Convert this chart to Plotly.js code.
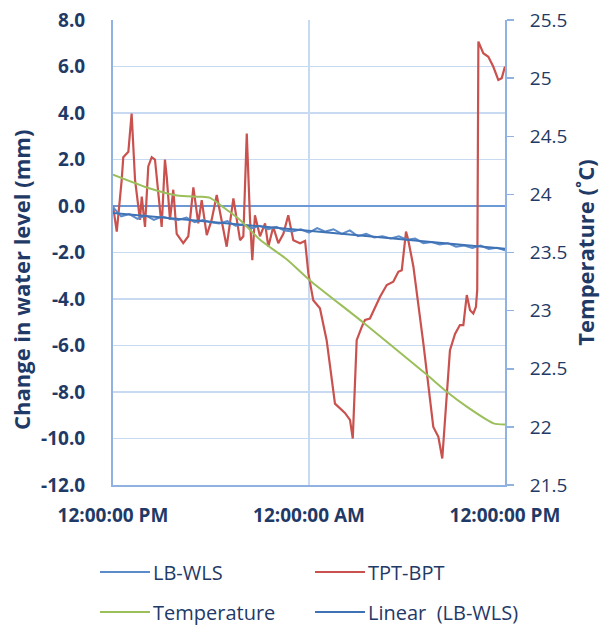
<!DOCTYPE html>
<html><head><meta charset="utf-8">
<script src="https://cdn.plot.ly/plotly-3.0.1.min.js"></script>
<style>html,body{margin:0;padding:0;background:#fff}#chart{width:600px;height:630px}</style>
</head><body><div id="chart"></div>
<script>
const xTickVals = [0, 12, 24];
const xTickText = ['12:00:00 PM', '12:00:00 AM', '12:00:00 PM'];
const leftTickVals = [-12, -10, -8, -6, -4, -2, 0, 2, 4, 6, 8];
const leftTickText = ['-12.0', '-10.0', '-8.0', '-6.0', '-4.0', '-2.0', '0.0', '2.0', '4.0', '6.0', '8.0'];
const rightTickVals = [21.5, 22, 22.5, 23, 23.5, 24, 24.5, 25, 25.5];
const rightTickText = ['21.5', '22', '22.5', '23', '23.5', '24', '24.5', '25', '25.5'];

const seriesNames = ['LB-WLS', 'TPT-BPT', 'Temperature', 'Linear  (LB-WLS)'];

const wlsHours = [0, 0.5, 1, 1.5, 2, 2.5, 3, 3.5, 4, 4.5, 5, 5.5, 6, 6.5, 7, 7.5, 8, 8.5, 9, 9.5, 10, 10.5, 11, 11.5, 12,
  12.5, 13, 13.5, 14, 14.5, 15, 15.5, 16, 16.5, 17, 17.5, 18, 18.5, 19, 19.5, 20, 20.5, 21, 21.5, 22, 22.5, 23, 23.5, 24];
const wlsValues = [-0.05, -0.45, -0.35, -0.55, -0.4, -0.6, -0.45, -0.55, -0.6, -0.5, -0.7, -0.6, -0.7, -0.75, -0.65, -0.85,
  -0.8, -0.95, -0.85, -1.0, -0.9, -1.05, -1.1, -1.0, -1.15, -0.95, -1.1, -1.0, -1.2, -1.05, -1.3, -1.2, -1.35, -1.3,
  -1.4, -1.3, -1.45, -1.4, -1.6, -1.55, -1.65, -1.6, -1.75, -1.7, -1.8, -1.7, -1.85, -1.8, -1.9];

const tptHours = [0, 0.23, 0.53, 0.63, 0.94, 1.14, 1.35, 1.65, 1.76, 1.96, 2.16, 2.37, 2.57, 2.98, 3.18, 3.29, 3.49, 3.69,
  3.9, 4.3, 4.61, 4.92, 5.22, 5.43, 5.74, 6.04, 6.35, 6.66, 6.96, 7.37, 7.78, 7.98, 8.19, 8.39, 8.53, 8.69, 9.0, 9.31,
  9.51, 9.81, 10.12, 10.43, 10.73, 11.04, 11.45, 11.76, 11.96, 12.26, 12.67, 13.08, 13.59, 14.2, 14.51, 14.68, 14.92,
  15.23, 15.43, 15.73, 16.35, 16.76, 17.16, 17.47, 17.68, 17.94, 18.08, 18.39, 19.0, 19.61, 19.92, 20.16, 20.43, 20.63,
  20.94, 21.24, 21.45, 21.66, 21.86, 22.06, 22.22, 22.3, 22.37, 22.67, 22.98, 23.28, 23.59, 23.8, 24];
const tptValues = [0.0, -1.1, 1.1, 2.1, 2.33, 3.98, 1.12, -0.6, 0.4, -0.9, 1.7, 2.1, 2.0, -0.9, 2.0, 1.25, -0.6, 0.7,
  -1.2, -1.6, -1.3, 0.8, -0.75, 0.25, -1.25, -0.6, 0.47, -0.75, -1.75, 0.33, -1.47, -1.3, 3.12, -0.6, -2.33, -0.4, -1.3,
  -0.75, -1.75, -0.9, -1.6, -1.2, -0.4, -1.47, -1.6, -1.5, -2.9, -4.05, -4.4, -5.77, -8.5, -8.9, -9.2, -10.0, -5.77,
  -5.2, -4.9, -4.84, -3.9, -3.4, -3.26, -2.83, -2.76, -1.1, -1.47, -2.6, -5.9, -9.5, -9.93, -10.86, -8.06, -6.2,
  -5.5, -5.12, -5.12, -3.83, -4.48, -4.62, -4.34, -3.6, 7.07, 6.57, 6.42, 6.0, 5.42, 5.5, 6.0];

const tempHours = [0, 2.27, 3.92, 5.33, 5.94, 6.74, 7.78, 9.0, 10.65, 12.06, 15.3, 19.2, 20.45, 21.7, 23.3, 24];
const tempValues = [24.17, 24.05, 23.99, 23.98, 23.97, 23.89, 23.78, 23.61, 23.44, 23.26, 22.9, 22.45, 22.3, 22.17, 22.03, 22.02];

// Linear trendline fitted to the LB-WLS series (least squares)
const n = wlsHours.length;
let sx = 0, sy = 0, sxx = 0, sxy = 0;
for (let i = 0; i < n; i++) { sx += wlsHours[i]; sy += wlsValues[i]; sxx += wlsHours[i] * wlsHours[i]; sxy += wlsHours[i] * wlsValues[i]; }
const slope = (n * sxy - sx * sy) / (n * sxx - sx * sx);
const icpt = (sy - slope * sx) / n;
const trendX = [wlsHours[0], wlsHours[n - 1]];
const trendY = trendX.map(h => icpt + slope * h);

const navy = '#1f3a66';
const font = 'Open Sans, Lato, sans-serif';
const blueWls = '#5b8bc9';
const blueLin = '#3f72b5';
const red = '#c9524f';
const green = '#9bbf5a';

const traces = [
  {x: tempHours, y: tempValues, yaxis: 'y2', mode: 'lines', name: seriesNames[2], line: {color: green, width: 2, shape: 'spline', smoothing: 0.6}},
  {x: tptHours, y: tptValues, mode: 'lines', name: seriesNames[1], line: {color: red, width: 2.2}},
  {x: wlsHours, y: wlsValues, mode: 'lines', name: seriesNames[0], line: {color: blueWls, width: 2}},
  {x: trendX, y: trendY, mode: 'lines', name: seriesNames[3], line: {color: blueLin, width: 2}}
];

function px(xp) { return (xp - 113) / 392; }
function py(yp) { return (485 - yp) / 465; }

const legendItems = [
  {name: seriesNames[0], color: blueWls, lx: 100, ty: 572},
  {name: seriesNames[1], color: red, lx: 315, ty: 572},
  {name: seriesNames[2], color: green, lx: 100, ty: 612},
  {name: seriesNames[3], color: blueLin, lx: 315, ty: 612}
];
const shapes = legendItems.map(it => ({type: 'line', xref: 'paper', yref: 'paper',
  x0: px(it.lx), x1: px(it.lx + 50), y0: py(it.ty), y1: py(it.ty), line: {color: it.color, width: 2}}));
const annotations = legendItems.map(it => ({xref: 'paper', yref: 'paper', x: px(it.lx + 51), y: py(it.ty),
  xanchor: 'left', yanchor: 'middle', showarrow: false, text: it.name, font: {family: font, size: 20, color: navy}}));
annotations.push({xref: 'paper', yref: 'paper', x: px(21), y: py(280), xanchor: 'center', yanchor: 'middle',
  textangle: -90, showarrow: false, text: '<b>Change in water level (mm)</b>', font: {family: font, size: 22, color: navy}});

const layout = {
  width: 600, height: 630,
  margin: {l: 113, r: 95, t: 20, b: 145},
  paper_bgcolor: '#fff', plot_bgcolor: '#fff',
  showlegend: false,
  font: {family: font, color: navy},
  xaxis: {
    range: [0, 24], tickvals: xTickVals, ticktext: xTickText, showgrid: true, gridcolor: '#c8daf2', gridwidth: 1.5,
    showline: true, linecolor: '#8fb2e3', linewidth: 1.5, zeroline: false, ticks: '', ticklabelstandoff: 13,
    tickfont: {family: font, size: 19, color: navy, weight: 'bold'}
  },
  yaxis: {
    range: [-12, 8], tickvals: leftTickVals, ticktext: leftTickText, showgrid: true, gridcolor: '#c8daf2', gridwidth: 1.5,
    showline: true, linecolor: '#8fb2e3', linewidth: 2, zeroline: true, zerolinecolor: '#6d98d6', zerolinewidth: 2,
    ticks: '', ticklabelstandoff: 22, tickfont: {family: font, size: 19, color: navy, weight: 'bold'}
  },
  yaxis2: {
    range: [21.5, 25.5], tickvals: rightTickVals, ticktext: rightTickText, overlaying: 'y', side: 'right',
    showgrid: false, zeroline: false, showline: true, linecolor: '#8fb2e3', linewidth: 2,
    ticks: 'outside', ticklen: 7, tickcolor: '#8fb2e3', tickwidth: 1.5, ticklabelstandoff: 12,
    tickfont: {family: font, size: 19, color: navy},
    title: {text: '<b>Temperature (˚C)</b>', standoff: 13, font: {family: font, size: 22, color: navy}}
  },
  shapes: shapes,
  annotations: annotations
};

Plotly.newPlot('chart', traces, layout, {displayModeBar: false, staticPlot: true});
</script>
</body></html>
